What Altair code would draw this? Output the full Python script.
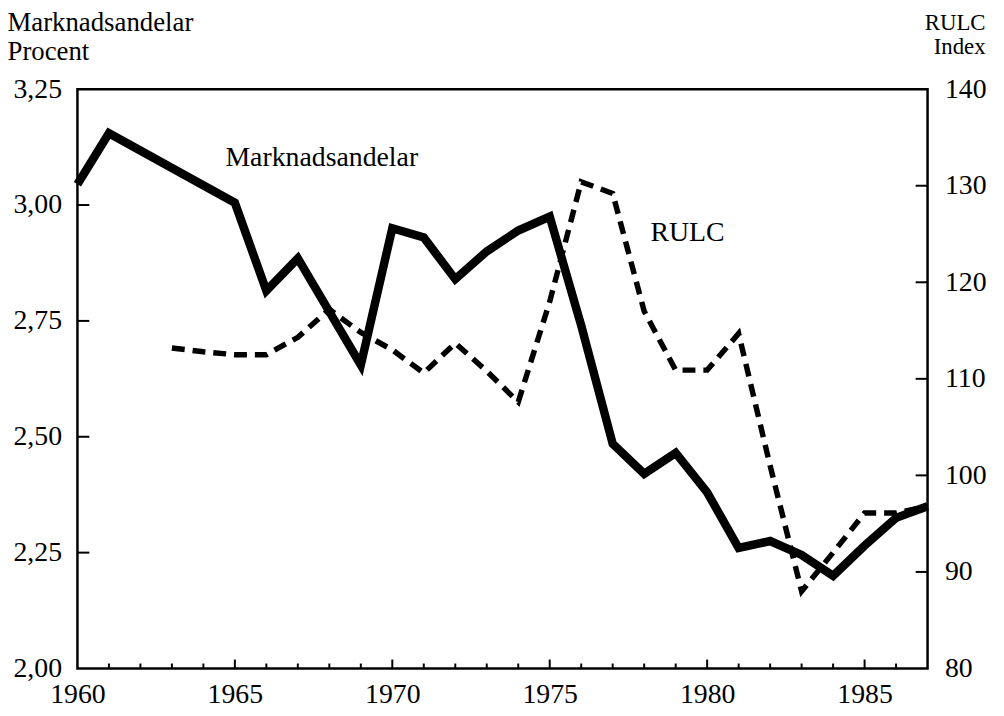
import altair as alt
import pandas as pd

# ---- data ----
years_m = [1960, 1961, 1965, 1966, 1967, 1968, 1969, 1970, 1971, 1972, 1973, 1974,
           1975, 1976, 1977, 1978, 1979, 1980, 1981, 1982, 1983, 1984, 1985, 1986, 1987]
share = [3.045, 3.155, 3.005, 2.815, 2.885, 2.77, 2.655, 2.95, 2.93, 2.84, 2.90, 2.945,
         2.975, 2.74, 2.485, 2.42, 2.465, 2.38, 2.26, 2.275, 2.245, 2.20, 2.265, 2.325, 2.35]

years_r = [1963, 1964, 1965, 1966, 1967, 1968, 1969, 1970, 1971, 1972, 1973, 1974,
           1975, 1976, 1977, 1978, 1979, 1980, 1981, 1982, 1983, 1984, 1985, 1986, 1987]
rulc = [113.2, 112.8, 112.5, 112.5, 114.3, 117.2, 114.8, 113.0, 110.6, 113.7, 110.8, 107.6,
        118.0, 130.4, 129.2, 117.0, 110.9, 110.9, 114.7, 101.0, 88.0, 92.0, 96.1, 96.1, 96.8]

x_labels = [1960, 1965, 1970, 1975, 1980, 1985]
minor_years = [y for y in range(1961, 1987) if y % 5 != 0]
major_years = [1965, 1970, 1975, 1980, 1985]
left_labels = [2.00, 2.25, 2.50, 2.75, 3.00, 3.25]
left_ticks = [2.25, 2.50, 2.75, 3.00]
right_labels = [80, 90, 100, 110, 120, 130, 140]
right_ticks = [90, 100, 110, 120, 130]

FONT = "Liberation Serif"
W, H = 857, 584

xscale = alt.Scale(domain=[1960, 1987], nice=False, zero=False)
yl = alt.Scale(domain=[2.0, 3.25], nice=False, zero=False)
yr = alt.Scale(domain=[80, 140], nice=False, zero=False)

df_m = pd.DataFrame({"year": years_m, "share": share})
df_r = pd.DataFrame({"year": years_r, "rulc": rulc})

x_axis = alt.Axis(values=x_labels, format="d", tickSize=0, domain=False, grid=False,
                  labelFontSize=28, labelFont=FONT, labelColor="black", labelPadding=12,
                  title=None, labelFlush=False)

left_axis = alt.Axis(orient="left", values=left_labels,
                     labelExpr="replace(format(datum.value, '.2f'), '.', ',')",
                     tickSize=0, domain=False, grid=False, labelFontSize=28, labelFont=FONT,
                     labelColor="black", labelPadding=16, labelFlush=False,
                     title=["Marknadsandelar", "Procent"], titleAngle=0, titleAlign="left",
                     titleBaseline="alphabetic", titleX=-71, titleY=-59, titleFont=FONT,
                     titleFontSize=27, titleFontWeight="normal", titleLineHeight=29,
                     titleColor="black")

right_axis = alt.Axis(orient="right", values=right_labels, format="d",
                      tickSize=0, domain=False, grid=False, labelFontSize=28, labelFont=FONT,
                      labelColor="black", labelPadding=17, labelFlush=False,
                      title=["RULC", "Index"], titleAngle=0, titleAlign="right",
                      titleBaseline="alphabetic", titleX=58, titleY=-60, titleFont=FONT,
                      titleFontSize=23, titleFontWeight="normal", titleLineHeight=24,
                      titleColor="black")

X = alt.X("year:Q", scale=xscale, axis=x_axis)

line_m = alt.Chart(df_m).mark_line(color="black", strokeWidth=8.5, strokeJoin="miter").encode(
    x=X,
    y=alt.Y("share:Q", scale=yl, axis=left_axis),
)

xt_minor = alt.Chart(pd.DataFrame({"year": minor_years})).mark_rule(
    color="black", strokeWidth=2).encode(
    x=X, y=alt.value(H), y2=alt.value(H - 5))

xt_major = alt.Chart(pd.DataFrame({"year": major_years})).mark_rule(
    color="black", strokeWidth=2).encode(
    x=X, y=alt.value(H), y2=alt.value(H - 9))

lt = alt.Chart(pd.DataFrame({"share": left_ticks})).mark_rule(color="black", strokeWidth=2).encode(
    y=alt.Y("share:Q", scale=yl, axis=left_axis),
    x=alt.value(0), x2=alt.value(12))

txt_m = alt.Chart(pd.DataFrame({"year": [1964.7], "share": [3.085], "t": ["Marknadsandelar"]})).mark_text(
    font=FONT, fontSize=28, align="left", baseline="alphabetic", color="black").encode(
    x=X,
    y=alt.Y("share:Q", scale=yl, axis=left_axis),
    text="t:N")

left_group = alt.layer(line_m, xt_minor, xt_major, lt, txt_m)

line_r = alt.Chart(df_r).mark_line(color="black", strokeWidth=5.5, strokeDash=[13, 8]).encode(
    x=X,
    y=alt.Y("rulc:Q", scale=yr, axis=right_axis),
)

rt = alt.Chart(pd.DataFrame({"rulc": right_ticks})).mark_rule(color="black", strokeWidth=2).encode(
    y=alt.Y("rulc:Q", scale=yr, axis=right_axis),
    x=alt.value(W - 12), x2=alt.value(W))

txt_r = alt.Chart(pd.DataFrame({"year": [1978.2], "rulc": [124.3], "t": ["RULC"]})).mark_text(
    font=FONT, fontSize=28, align="left", baseline="alphabetic", color="black").encode(
    x=X,
    y=alt.Y("rulc:Q", scale=yr, axis=right_axis),
    text="t:N")

right_group = alt.layer(line_r, rt, txt_r)

chart = alt.layer(left_group, right_group).resolve_scale(y="independent").properties(
    width=W, height=H,
    padding={"left": 70, "top": 79, "right": 69, "bottom": 37},
    autosize="none",
    background="white",
).configure_view(stroke="black", strokeWidth=2.5)

chart.save("out.html", embed_options={"renderer": "svg", "actions": False})
